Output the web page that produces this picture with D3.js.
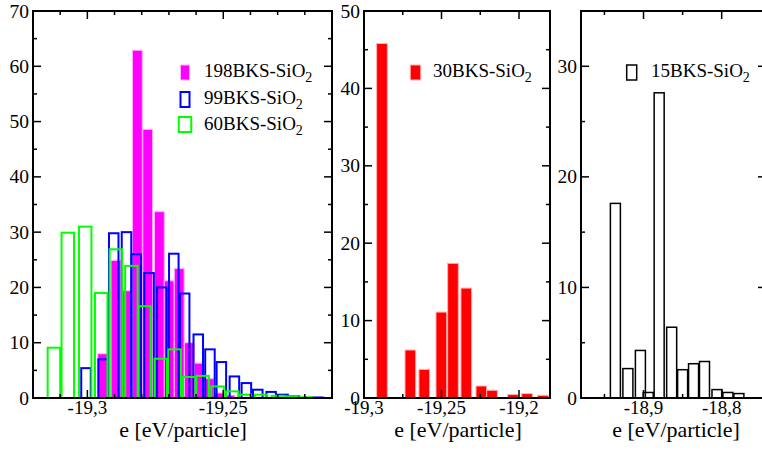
<!DOCTYPE html>
<html><head><meta charset="utf-8">
<script src="https://cdn.jsdelivr.net/npm/d3@7/dist/d3.min.js"></script>
<style>
html,body{margin:0;padding:0;background:#fff;}
text{font-family:"Liberation Serif","Times New Roman",serif;fill:#000;}
</style></head>
<body><svg id="chart" width="762" height="450"></svg>
<script>
// ---------- DATA ----------
// Left panel: 198BKS (filled magenta), 99BKS (blue outline), 60BKS (green outline)
const e198 = [-19.2944,-19.2895,-19.2854,-19.2816,-19.2778,-19.2735,-19.2699,-19.2662,-19.2625,-19.2588,-19.2552,-19.2515,-19.2475];
const n198 = [8.0,24.9,19.4,62.9,48.6,33.7,21.2,23.4,10.0,6.3,3.5,0.9,0.5];
const e99 = [-19.3005,-19.2942,-19.2903,-19.2856,-19.2820,-19.2773,-19.2726,-19.2682,-19.2642,-19.2592,-19.2549,-19.2507,-19.2459,-19.2415,-19.2373,-19.2324,-19.2280,-19.2239,-19.2152];
const n99 = [5.4,7.0,29.8,30.0,26.0,22.6,20.0,26.1,18.9,11.5,8.8,6.5,3.9,2.7,1.5,1.1,0.6,0.3,0.1];
const e60 = [-19.3123,-19.3072,-19.3008,-19.2949,-19.2895,-19.2838,-19.2790,-19.2730,-19.2679,-19.2625,-19.2576,-19.2521,-19.2467,-19.2421,-19.2361,-19.2299,-19.2250,-19.2195];
const n60 = [9.1,29.9,31.0,19.0,26.9,23.9,16.6,7.1,8.8,3.8,4.0,2.1,1.2,0.6,0.6,0.4,0.3,0.15];
// Middle panel: 30BKS (filled red)
const e30 = [-19.2884,-19.2701,-19.2611,-19.2501,-19.2426,-19.2340,-19.2243,-19.2174,-19.2039,-19.1948,-19.1845];
const n30 = [45.8,6.2,3.7,11.1,17.4,14.2,1.55,1.0,0.45,0.57,0.35];
// Right panel: 15BKS (black outline)
const e15 = [-18.936,-18.920,-18.904,-18.894,-18.880,-18.864,-18.850,-18.836,-18.822,-18.806,-18.792,-18.778];
const n15 = [17.6,2.66,4.3,0.5,27.6,6.4,2.56,3.1,3.3,0.76,0.5,0.4];

// tick labels
const xTicksL = [-19.3,-19.25], yTicksL = [0,10,20,30,40,50,60,70];
const xTicksM = [-19.3,-19.25,-19.2], yTicksM = [0,10,20,30,40,50];
const xTicksR = [-18.9,-18.8], yTicksR = [0,10,20,30];
const xTitle = "e [eV/particle]";

// ---------- DRAW ----------
const svg = d3.select("#chart");
const fmt = v => String(v).replace(".", ",");

function panel(o){
  const x = d3.scaleLinear().domain(o.xd).range([o.x0,o.x1]);
  const y = d3.scaleLinear().domain(o.yd).range([o.y0,o.y1]);
  const g = svg.append("g");
  o.draw(g,x,y);
  // frame
  g.append("rect").attr("x",o.x0).attr("y",o.y1).attr("width",o.x1-o.x0).attr("height",o.y0-o.y1)
    .attr("fill","none").attr("stroke","#000").attr("stroke-width",2);
  const tk = g.append("g").attr("stroke","#000").attr("stroke-width",1.5);
  const xmin = d3.range(o.xd[0]-1e-9, o.xd[1], o.xminor).map(v=>Math.round(v/o.xminor)*o.xminor)
    .filter(v=>v>=o.xd[0]-1e-9 && v<=o.xd[1]+1e-9);
  xmin.forEach(v=>{
    const major = o.xt.some(t=>Math.abs(t-v)<1e-6);
    const L = major?8:4;
    tk.append("line").attr("x1",x(v)).attr("x2",x(v)).attr("y1",o.y0).attr("y2",o.y0-L);
    tk.append("line").attr("x1",x(v)).attr("x2",x(v)).attr("y1",o.y1).attr("y2",o.y1+L);
  });
  const ymin = d3.range(o.yd[0], o.yd[1]+1e-9, 5);
  ymin.forEach(v=>{
    const major = v%10===0;
    const L = major?8:4;
    tk.append("line").attr("y1",y(v)).attr("y2",y(v)).attr("x1",o.x0).attr("x2",o.x0+L);
    tk.append("line").attr("y1",y(v)).attr("y2",y(v)).attr("x1",o.x1).attr("x2",o.x1-L);
  });
  g.selectAll(".xl").data(o.xt).enter().append("text")
    .attr("x",d=>x(d)).attr("y",o.y0+16).attr("text-anchor","middle")
    .style("font-size","19px").text(fmt);
  g.selectAll(".yl").data(o.yt).enter().append("text")
    .attr("x",o.x0-4).attr("y",d=>y(d)+6.5).attr("text-anchor","end")
    .style("font-size","19.5px").text(fmt);
  g.append("text").attr("x",o.tx).attr("y",437).attr("text-anchor","middle")
    .style("font-size","22px").text(xTitle);
}

function bars(g,x,y,es,ns,w,style){
  g.append("g").selectAll("rect").data(es.map((e,i)=>({e,n:ns[i]}))).enter().append("rect")
    .attr("x",d=>x(d.e-w/2)).attr("width",d=>x(d.e+w/2)-x(d.e-w/2))
    .attr("y",d=>y(d.n)).attr("height",d=>y(0)-y(d.n))
    .attr("fill",style.fill).attr("stroke",style.stroke).attr("stroke-width",style.sw);
}

function legend(g,lx,ly,w,style){
  g.append("rect").attr("x",lx-w/2).attr("y",ly).attr("width",w).attr("height",15)
    .attr("fill",style.fill).attr("stroke",style.stroke).attr("stroke-width",style.sw);
}
function legText(g,tx,ty,name){
  const t = g.append("text").attr("x",tx).attr("y",ty).style("font-size","19px");
  t.append("tspan").text(name+"BKS-SiO");
  t.append("tspan").attr("dy",5).style("font-size","14px").text("2");
}

const sMag = {fill:"#ff00ff",stroke:"#ffb0ff",sw:1};
const sBlue = {fill:"none",stroke:"#0000ff",sw:2};
const sGreen = {fill:"none",stroke:"#00ff00",sw:2};
const sRed = {fill:"#ff0000",stroke:"#ffb0b0",sw:1};
const sBlack = {fill:"none",stroke:"#000",sw:1.5};

panel({xd:[-19.32,-19.21], yd:[0,70], x0:33, x1:332, y0:398, y1:11, xminor:0.01, xt:xTicksL, yt:yTicksL, tx:183,
  draw:(g,x,y)=>{
    bars(g,x,y,e198,n198,0.0036,sMag);
    bars(g,x,y,e99,n99,0.0035,sBlue);
    bars(g,x,y,e60,n60,0.0046,sGreen);
    legend(g,185,65,9,sMag); legText(g,204,77,"198");
    legend(g,185,92,9,sBlue); legText(g,204,104,"99");
    legend(g,185,117,12.5,sGreen); legText(g,204,130,"60");
  }});

panel({xd:[-19.3,-19.18], yd:[0,50], x0:364, x1:550, y0:398, y1:11, xminor:0.025, xt:xTicksM, yt:yTicksM, tx:458,
  draw:(g,x,y)=>{
    bars(g,x,y,e30,n30,0.0069,sRed);
    legend(g,415.5,65,10.5,sRed); legText(g,433,77,"30");
  }});

panel({xd:[-18.98,-18.7433], yd:[0,35], x0:581, x1:766, y0:398, y1:11, xminor:0.05, xt:xTicksR, yt:yTicksR, tx:676,
  draw:(g,x,y)=>{
    bars(g,x,y,e15,n15,0.0128,sBlack);
    legend(g,631.7,65,10,sBlack); legText(g,651,77,"15");
  }});
</script></body></html>
